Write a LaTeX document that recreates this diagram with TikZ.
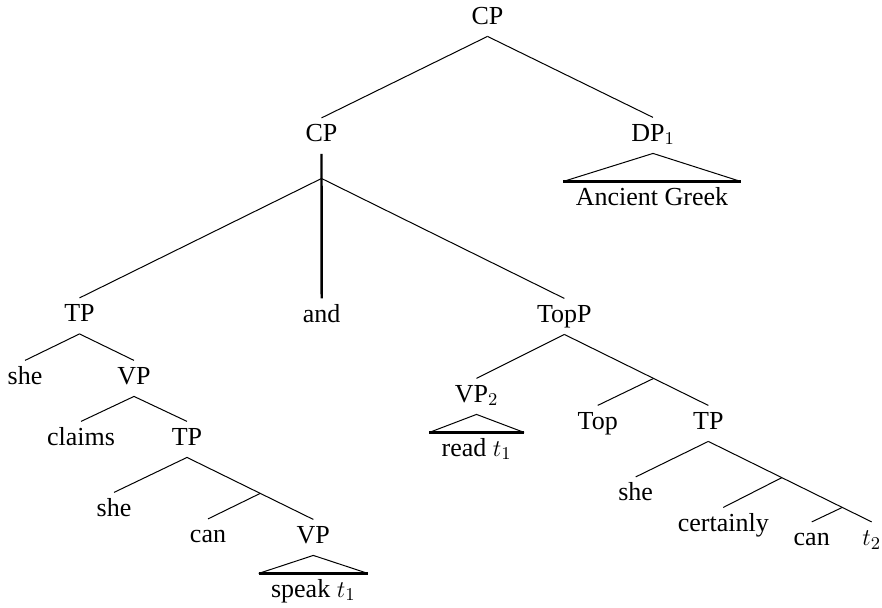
\documentclass[tikz,border=0pt]{standalone}
\usepackage{fontspec}
\setmainfont{Liberation Serif}
\usetikzlibrary{calc}

\begin{document}
\begin{tikzpicture}[x=0.5pt,y=-0.5pt]

\tikzset{lbl/.style={anchor=base, font=\fontsize{13}{15}\selectfont, inner xsep=6pt, inner ysep=3pt, text height=8.6pt, text depth=3pt},
branch/.style={line width=0.5pt},
%conjunction stem and triangle bases
heavy/.style={line width=1.2pt}}

\useasboundingbox (0,0) rectangle (882,607);

\node[lbl] (cp) at (487.5,24) {CP};
\node[lbl] (cpconj) at (321.5,141.5) {CP};
\node[lbl] (dp) at (653,141) {DP$_1$};
\node[lbl] (ag) at (652,205) {Ancient Greek};

\node[lbl] (tpa) at (79.5,321.5) {TP};
\node[lbl] (and) at (321.7,322) {and};
\node[lbl] (topp) at (564.3,322) {TopP};

\node[lbl] (shea) at (25,384) {she};
\node[lbl] (vpa) at (134,384) {VP};
\node[lbl] (claims) at (81,445) {claims};
\node[lbl] (tpb) at (187,445) {TP};
\node[lbl] (sheb) at (114,516) {she};
\node[lbl] (cana) at (208,542.5) {can};
\node[lbl] (vpb) at (313.3,543) {VP};
\node[lbl] (speak) at (313.3,597) {speak $t_1$};

\node[lbl] (vpt) at (476.5,402) {VP$_2$};
\node[lbl] (read) at (476.7,456) {read $t_1$};
\node[lbl] (top) at (597.7,429) {Top};
\node[lbl] (tpc) at (708.3,429) {TP};
\node[lbl] (shec) at (635.7,500.5) {she};
\node[lbl] (cert) at (723.3,531) {certainly};
\node[lbl] (canb) at (811.7,545.5) {can};
\node[lbl] (trace) at (871.7,545.5) {$t_2$};

\foreach \a/\b in {cp/cpconj, cp/dp, tpa/shea, tpa/vpa, vpa/claims, vpa/tpb, tpb/sheb, tpb/vpb, topp/vpt, topp/tpc, tpc/shec, tpc/trace}
\draw[branch] (\a.south) -- (\b.north);

\draw[heavy] (cpconj.south) -- (and.north);
\coordinate (fork) at ($(cpconj.south)!0.17!(and.north)$);
\draw[branch] (fork) -- (tpa.north);
\draw[branch] (fork) -- (topp.north);

%unlabelled bar levels
\coordinate (tbar) at ($(tpb.south)!0.58!(vpb.north)$);
\coordinate (topbar) at ($(topp.south)!0.62!(tpc.north)$);
\coordinate (tbarb) at ($(tpc.south)!0.45!(trace.north)$);
\coordinate (vbar) at ($(tpc.south)!0.82!(trace.north)$);

\foreach \a/\b in {tbar/cana, topbar/top, tbarb/cert, vbar/canb}
\draw[branch] (\a) -- (\b.north);

\foreach \a/\b in {dp/ag, vpb/speak, vpt/read} {
\draw[branch] (\b.north west) -- (\a.south) -- (\b.north east);
\draw[heavy] (\b.north west) -- (\b.north east);
}

\end{tikzpicture}
\end{document}
